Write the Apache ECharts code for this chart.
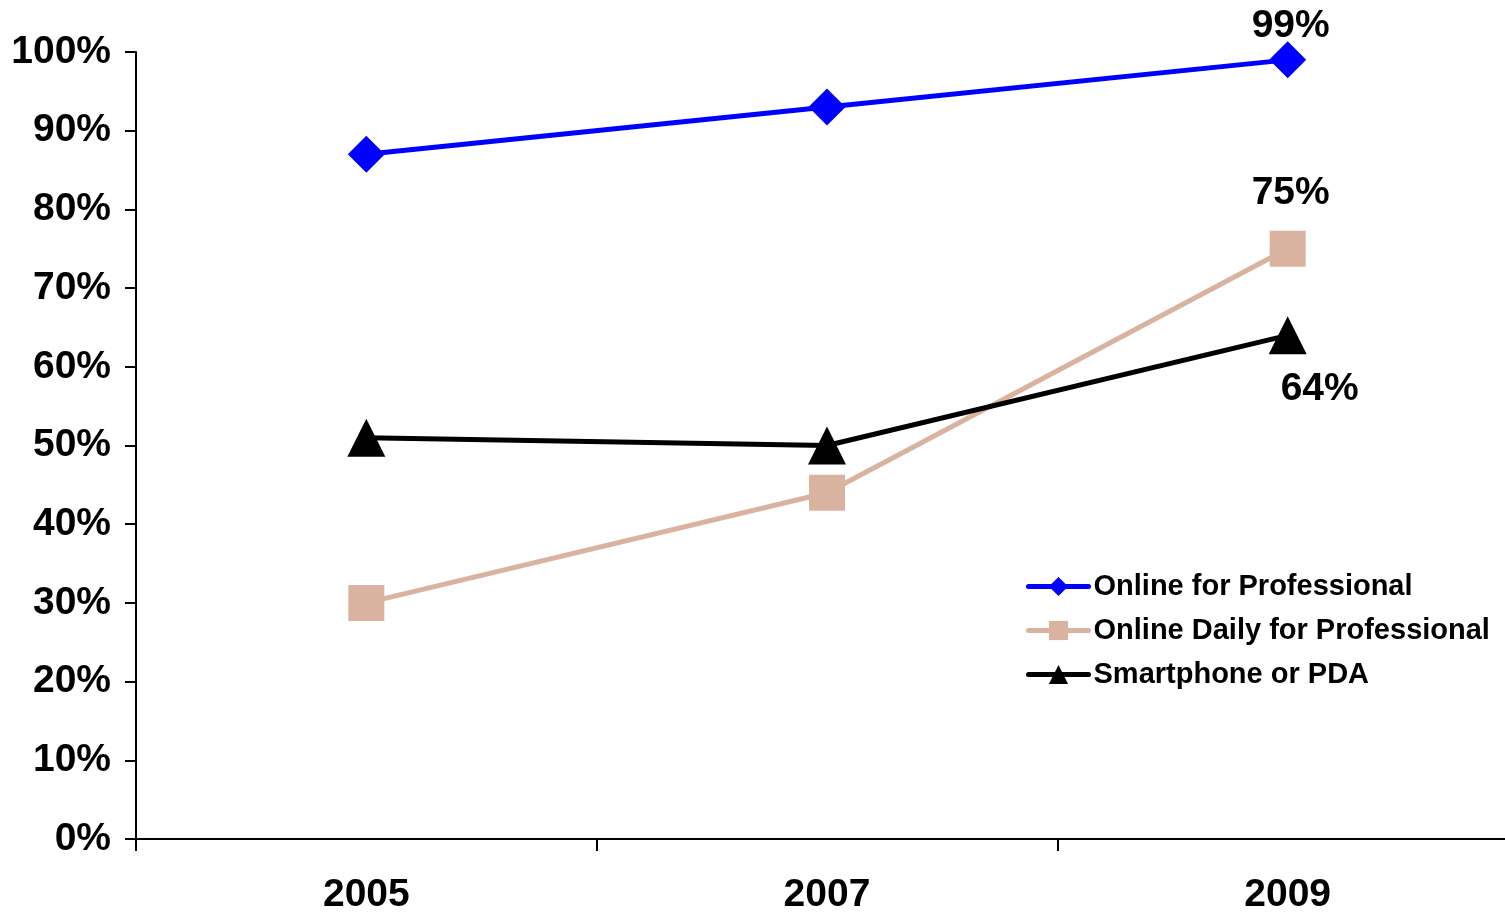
<!DOCTYPE html>
<html>
<head>
<meta charset="utf-8">
<script src="https://cdn.jsdelivr.net/npm/echarts@6/dist/echarts.min.js"></script>
<style>
html,body{margin:0;padding:0;background:#fff;}
#chart{width:1505px;height:913px;}
</style>
</head>
<body>
<div id="chart"></div>
<script>
const years = ['2005', '2007', '2009'];
const onlineProfessional = [87, 93, 99];
const onlineDaily = [30, 44, 75];
const smartphone = [51, 50, 64];
const seriesNames = ['Online for Professional', 'Online Daily for Professional', 'Smartphone or PDA'];
const yTicks = [0, 10, 20, 30, 40, 50, 60, 70, 80, 90, 100];

const FONT = '"Liberation Sans", Arial, sans-serif';
const chart = echarts.init(document.getElementById('chart'));

function lastLabel(p) { return p.dataIndex === years.length - 1 ? p.value + '%' : ''; }

chart.setOption({
  animation: false,
  backgroundColor: '#ffffff',
  grid: { left: 136, top: 52, height: 787, width: 1382, containLabel: false, outerBoundsMode: 'none' },
  legend: {
    orient: 'vertical',
    left: 1021,
    top: 567,
    itemWidth: 60,
    itemHeight: 24,
    itemGap: 15,
    lineStyle: { width: 5, cap: 'round' },
    textStyle: { fontFamily: FONT, fontWeight: 'bold', fontSize: 29, color: '#000' },
    data: seriesNames
  },
  xAxis: {
    type: 'category',
    data: years,
    boundaryGap: true,
    axisLine: { lineStyle: { color: '#000', width: 2 } },
    axisTick: { show: true, length: 12, lineStyle: { color: '#000', width: 2 } },
    axisLabel: { margin: 37, fontFamily: FONT, fontWeight: 'bold', fontSize: 39, color: '#000' }
  },
  yAxis: {
    type: 'value',
    min: yTicks[0],
    max: yTicks[yTicks.length - 1],
    interval: 10,
    splitLine: { show: false },
    axisLine: { show: true, lineStyle: { color: '#000', width: 2 } },
    axisTick: { show: true, length: 11, lineStyle: { color: '#000', width: 2 } },
    axisLabel: { margin: 25, formatter: '{value}%', fontFamily: FONT, fontWeight: 'bold', fontSize: 39, color: '#000' }
  },
  series: [
    {
      name: seriesNames[0], type: 'line', data: onlineProfessional,
      symbol: 'diamond', symbolSize: [37, 37],
      lineStyle: { color: '#0000ff', width: 5 },
      itemStyle: { color: '#0000ff' },
      label: { show: true, formatter: lastLabel, position: 'top', distance: 12, offset: [3, 16],
        fontFamily: FONT, fontWeight: 'bold', fontSize: 39, color: '#000' }
    },
    {
      name: seriesNames[1], type: 'line', data: onlineDaily,
      symbol: 'rect', symbolSize: [36, 36],
      lineStyle: { color: '#d9b3a0', width: 5 },
      itemStyle: { color: '#d9b3a0' },
      label: { show: true, formatter: lastLabel, position: 'top', distance: 23, offset: [3, 5],
        fontFamily: FONT, fontWeight: 'bold', fontSize: 39, color: '#000' }
    },
    {
      name: seriesNames[2], type: 'line', data: smartphone,
      symbol: 'triangle', symbolSize: [38, 38],
      lineStyle: { color: '#000000', width: 5 },
      itemStyle: { color: '#000000' },
      label: { show: true, formatter: lastLabel, position: 'bottom', distance: 18, offset: [32, -3],
        fontFamily: FONT, fontWeight: 'bold', fontSize: 39, color: '#000' }
    }
  ]
});
</script>
</body>
</html>
